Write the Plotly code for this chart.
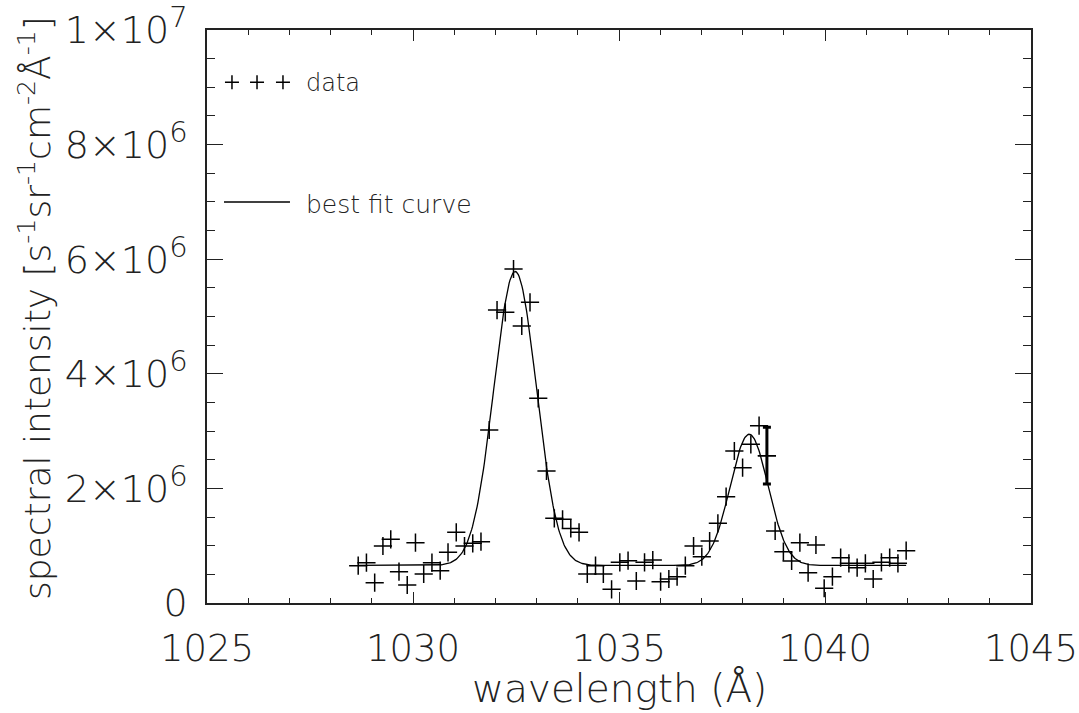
import plotly.graph_objects as go
import numpy as np

# ---- data ----
wavelength = [1028.67, 1028.87, 1029.07, 1029.27, 1029.46, 1029.66, 1029.86, 1030.06,
              1030.26, 1030.46, 1030.66, 1030.85, 1031.05, 1031.25, 1031.45, 1031.65,
              1031.85, 1032.04, 1032.24, 1032.44, 1032.64, 1032.84, 1033.04, 1033.24,
              1033.43, 1033.63, 1033.83, 1034.03, 1034.23, 1034.43, 1034.62, 1034.82,
              1035.02, 1035.22, 1035.42, 1035.62, 1035.82, 1036.01, 1036.21, 1036.41,
              1036.61, 1036.81, 1037.01, 1037.20, 1037.40, 1037.60, 1037.80, 1038.00,
              1038.20, 1038.40, 1038.59, 1038.79, 1038.99, 1039.19, 1039.39, 1039.59,
              1039.78, 1039.98, 1040.18, 1040.38, 1040.58, 1040.78, 1040.98, 1041.17,
              1041.37, 1041.57, 1041.77, 1041.97]
intensity_e6 = [0.651, 0.703, 0.354, 0.995, 1.112, 0.546, 0.314, 1.052,
                0.506, 0.703, 0.564, 0.885, 1.234, 0.995, 1.042, 1.070,
                3.019, 5.113, 5.073, 5.829, 4.834, 5.248, 3.572, 2.304,
                1.478, 1.461, 1.300, 1.234, 0.506, 0.651, 0.506, 0.239,
                0.710, 0.738, 0.384, 0.710, 0.750, 0.372, 0.419, 0.459,
                0.651, 0.995, 0.808, 1.082, 1.391, 1.855, 2.653, 2.361,
                2.770, 3.094, 2.571, 1.257, 0.895, 0.733, 1.052, 0.529,
                1.012, 0.257, 0.459, 0.791, 0.693, 0.616, 0.693, 0.419,
                0.710, 0.791, 0.693, 0.913]
intensity = [v * 1e6 for v in intensity_e6]

# single point shown with an error bar
err_wavelength = [1038.59]
err_intensity = [2.571e6]
err_size = [0.495e6]

# best-fit model parameters (two gaussians on a flat background)
fit_background = 0.655e6
fit_centers = [1032.48, 1038.16]
fit_amplitudes = [5.13e6, 2.29e6]
fit_sigmas = [0.515, 0.46]

x_ticks = [1025, 1030, 1035, 1040, 1045]
y_ticks = [0, 2e6, 4e6, 6e6, 8e6, 1e7]
y_mantissa = ["0", "2", "4", "6", "8", "1"]
y_exponent = ["", "6", "6", "6", "6", "7"]
y_ticktext = [m if e == "" else
              f"{m}×10<sup><span style='font-size:29px'>{e}</span></sup>"
              for m, e in zip(y_mantissa, y_exponent)]

FONT = "DejaVu Sans Light, DejaVu Sans"
W, H = 1079, 713
L, R, T, B = 207, 48, 30, 110
PW, PH = W - L - R, H - T - B

fit_x = np.linspace(wavelength[0], wavelength[-1], 600)
fit_y = np.full_like(fit_x, fit_background)
for c, a, s in zip(fit_centers, fit_amplitudes, fit_sigmas):
    fit_y = fit_y + a * np.exp(-0.5 * ((fit_x - c) / s) ** 2)

fig = go.Figure()
fig.add_trace(go.Scatter(x=fit_x, y=fit_y, mode="lines",
                         line=dict(color="black", width=1.3), showlegend=False))
fig.add_trace(go.Scatter(x=wavelength, y=intensity, mode="markers",
                         marker=dict(symbol="cross-thin", size=13,
                                     line=dict(color="black", width=1.5)),
                         showlegend=False))
fig.add_trace(go.Scatter(x=err_wavelength, y=err_intensity, mode="markers",
                         marker=dict(symbol="cross-thin", size=13,
                                     line=dict(color="black", width=1.5)),
                         error_y=dict(type="data", array=err_size, visible=True,
                                      color="black", thickness=3, width=4),
                         showlegend=False))

# legend decoration on an overlay axis (0..1 across the plot area)
legend_plus_x = [0.0303, 0.0607, 0.0922]
legend_plus_y = [0.909, 0.909, 0.909]
fig.add_trace(go.Scatter(x=legend_plus_x, y=legend_plus_y, xaxis="x2", yaxis="y2",
                         mode="markers",
                         marker=dict(symbol="cross-thin", size=10,
                                     line=dict(color="black", width=1.5)),
                         showlegend=False))

axis_common = dict(showgrid=False, zeroline=False, showline=True, linecolor="#222",
                   linewidth=1.5, mirror="allticks", ticks="inside", tickcolor="#222",
                   tickwidth=1.2, ticklabeloverflow="allow")
fig.update_layout(
    width=W, height=H,
    margin=dict(l=L, r=R, t=T, b=B, autoexpand=False),
    paper_bgcolor="white", plot_bgcolor="white",
    font=dict(family=FONT, color="#222", weight=200),
    xaxis=dict(range=[1025, 1045], tickvals=x_ticks, ticklen=11.5,
               tickfont=dict(family=FONT, size=37, weight=200),
               ticklabelstandoff=12,
               minor=dict(dtick=1, ticks="inside", ticklen=5.7, tickcolor="#222",
                          tickwidth=1.2),
               **axis_common),
    yaxis=dict(range=[0, 1e7], tickvals=y_ticks, ticktext=y_ticktext, ticklen=16.5,
               tickfont=dict(family=FONT, size=38, weight=200),
               ticklabelstandoff=10,
               minor=dict(dtick=5e5, ticks="inside", ticklen=8.2, tickcolor="#222",
                          tickwidth=1.2),
               **axis_common),
    xaxis2=dict(range=[0, 1], overlaying="x", visible=False),
    yaxis2=dict(range=[0, 1], overlaying="y", visible=False),
    shapes=[dict(type="line", xref="paper", yref="paper", x0=0.0206, x1=0.1007,
                 y0=0.6998, y1=0.6998, line=dict(color="black", width=1.3))],
    annotations=[
        dict(text="data", xref="paper", yref="paper", x=0.118, y=0.9075,
             xanchor="left", yanchor="middle", showarrow=False,
             font=dict(family=FONT, size=24, weight=200)),
        dict(text="best fit curve", xref="paper", yref="paper", x=0.118, y=0.696,
             xanchor="left", yanchor="middle", showarrow=False,
             font=dict(family=FONT, size=25, weight=200)),
        dict(text="wavelength (Å)", xref="paper", yref="paper", x=0.5,
             y=(603 - 689) / PH, xanchor="center", yanchor="middle", showarrow=False,
             font=dict(family=FONT, size=39, weight=200)),
        dict(text="spectral intensity [s<sup>-1</sup>sr<sup>-1</sup>cm<sup>-2</sup>Å<sup>-1</sup>]",
             xref="paper", yref="paper", x=(35 - L) / PW, y=(603 - 308) / PH,
             xanchor="center", yanchor="middle", textangle=-90, showarrow=False,
             font=dict(family=FONT, size=36, weight=200)),
    ],
)

fig.write_html("out.html")
